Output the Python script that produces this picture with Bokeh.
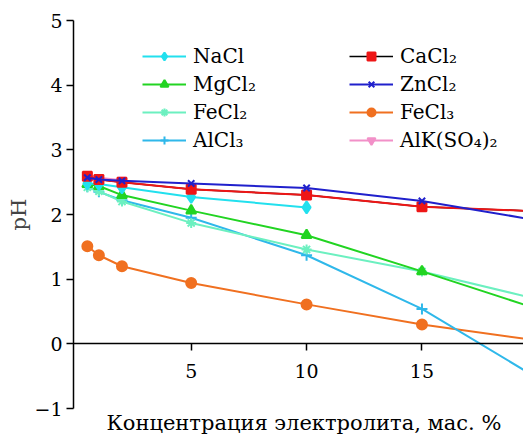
from bokeh.plotting import figure
from bokeh.models import (Range1d, FixedTicker, Legend, LegendItem,
                          ColumnDataSource, Title)
from bokeh.embed import file_html
from bokeh.resources import INLINE

# ---- data ----
conc = [0.5, 1, 2, 5, 10, 15, 20]
conc_nacl = [0.5, 1, 2, 5, 10]
conc_alk = [0.5, 1, 2]

ph_nacl = [2.48, 2.47, 2.42, 2.27, 2.11]
ph_cacl2 = [2.59, 2.54, 2.50, 2.39, 2.30, 2.12, 2.05]
ph_mgcl2 = [2.47, 2.44, 2.30, 2.06, 1.68, 1.12, 0.54]
ph_zncl2 = [2.57, 2.54, 2.52, 2.48, 2.41, 2.21, 1.91]
ph_fecl2 = [2.42, 2.36, 2.20, 1.87, 1.46, 1.12, 0.69]
ph_fecl3 = [1.51, 1.37, 1.20, 0.94, 0.61, 0.30, 0.05]
ph_alcl3 = [2.43, 2.35, 2.22, 1.95, 1.37, 0.54, -0.53]
ph_alk = [2.60, 2.57, 2.53]

labels = ["NaCl", "MgCl₂", "FeCl₂", "AlCl₃", "CaCl₂", "ZnCl₂", "FeCl₃", "AlK(SO₄)₂"]
y_ticks = [-1, 0, 1, 2, 3, 4, 5]
x_ticks = [5, 10, 15]
x_title = "Концентрация электролита, мас. %"
y_title = "pH"

FONT = "DejaVu Serif"

p = figure(width=523, height=434, output_backend="svg", toolbar_location=None,
           x_range=Range1d(-0.1, 19.4), y_range=Range1d(-1, 5),
           min_border_left=73, min_border_top=20, min_border_right=0,
           min_border_bottom=25)
p.outline_line_color = None
p.xgrid.visible = False
p.ygrid.visible = False
p.background_fill_color = "white"

# x axis drawn at y = 0
xa = p.xaxis[0]
xa.fixed_location = 0
xa.ticker = FixedTicker(ticks=x_ticks)
xa.minor_tick_line_color = None
xa.major_tick_in = 0
xa.major_tick_out = 7
xa.axis_line_width = 1.5
xa.major_tick_line_width = 1.5
xa.axis_line_color = "black"
xa.major_label_text_font = FONT
xa.major_label_text_font_size = "19px"
xa.major_label_text_color = "black"
xa.major_label_standoff = 13

# x title under the frame
p.add_layout(Title(text=x_title, align="left", offset=33, standoff=0,
                   text_font=FONT, text_font_size="21px",
                   text_font_style="normal", text_color="black"), "below")

ya = p.yaxis[0]
ya.ticker = FixedTicker(ticks=y_ticks)
ya.major_label_overrides = {-1: "−1"}
ya.minor_tick_line_color = None
ya.major_tick_in = 0
ya.major_tick_out = 7
ya.axis_line_width = 1.5
ya.major_tick_line_width = 1.5
ya.major_label_text_font = FONT
ya.major_label_text_font_size = "19px"
ya.major_label_text_color = "black"
ya.major_label_standoff = 4
ya.axis_label = y_title
ya.axis_label_text_font = FONT
ya.axis_label_text_font_size = "21px"
ya.axis_label_text_font_style = "normal"
ya.axis_label_standoff = 0

LW = 2
MS = 9

series = [
    ("NaCl", conc_nacl, ph_nacl, "#22E0EE", "diamond", MS + 3),
    ("MgCl₂", conc, ph_mgcl2, "#22D422", "triangle", MS + 1),
    ("FeCl₂", conc, ph_fecl2, "#6CF0C0", "asterisk", MS + 1),
    ("AlCl₃", conc, ph_alcl3, "#2FB8EA", "cross", MS + 2),
    ("CaCl₂", conc, ph_cacl2, "#EE1616", "square", MS),
    ("ZnCl₂", conc, ph_zncl2, "#2020CC", "x", MS),
    ("FeCl₃", conc, ph_fecl3, "#F07020", "circle", MS + 1),
    ("AlK(SO₄)₂", conc_alk, ph_alk, "#F290C8", "inverted_triangle", MS),
]

items = {}
draw_order = ["AlK(SO₄)₂", "FeCl₃", "AlCl₃", "FeCl₂", "MgCl₂", "NaCl", "CaCl₂", "ZnCl₂"]
rend = {}
for name, xs, ys, color, marker, size in series:
    src = ColumnDataSource(dict(x=xs, y=ys))
    rend[name] = (src, color, marker, size)

for name in draw_order:
    src, color, marker, size = rend[name]
    if name == "CaCl₂":
        # black legend line, hidden under the red plotted line
        leg_line = p.line("x", "y", source=src, line_color="black", line_width=LW - 0.5)
    ln = p.line("x", "y", source=src, line_color=color, line_width=LW)
    sc = p.scatter("x", "y", source=src, marker=marker, size=size,
                   line_color=color, fill_color=color, line_width=2)
    if name == "CaCl₂":
        items[name] = [leg_line, sc]
    else:
        items[name] = [ln, sc]

legend = Legend(items=[LegendItem(label=lab, renderers=items[lab]) for lab in labels],
                location=(69, 256), orientation="vertical", nrows=4,
                glyph_width=44, glyph_height=20, label_standoff=7,
                label_width=152, label_height=20, spacing=4, padding=0, margin=0,
                border_line_color=None, background_fill_alpha=0,
                label_text_font=FONT, label_text_font_size="20px",
                label_text_color="black")
p.add_layout(legend)

open("out.html", "w").write(file_html(p, INLINE))
